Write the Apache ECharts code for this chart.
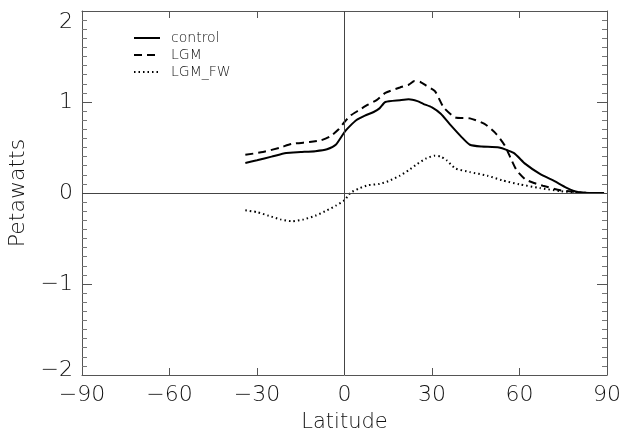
<!DOCTYPE html>
<html>
<head>
<meta charset="utf-8">
<script src="https://cdn.jsdelivr.net/npm/echarts@6/dist/echarts.min.js"></script>
<style>
  html, body { margin: 0; padding: 0; background: #fff; }
  #chart { width: 621px; height: 432px; }
</style>
</head>
<body>
<div id="chart"></div>
<script>
// values (latitude, petawatts)
var controlLat = [-34,-30,-25,-20,-15,-10,-6,-3,0,2,4,7,10,12,14,19,22,25,27,30,33,36,40,43,47,53,58,62,67,72,76,80,84,89];
var controlVal = [0.33,0.36,0.40,0.44,0.45,0.46,0.48,0.53,0.67,0.74,0.80,0.85,0.89,0.93,1.00,1.02,1.03,1.01,0.98,0.94,0.87,0.76,0.62,0.53,0.51,0.50,0.44,0.32,0.21,0.13,0.06,0.01,0,0];

var lgmLat = [-34,-28,-22,-18,-12,-8,-5,-2,0,2,5,8,11,14,19,22,24,26,28,31,34,38,43,48,52,55,57,59,62,65,68,74,80,84,89];
var lgmVal = [0.42,0.45,0.50,0.54,0.56,0.58,0.62,0.70,0.78,0.85,0.91,0.97,1.02,1.10,1.16,1.19,1.23,1.22,1.18,1.12,0.94,0.83,0.82,0.76,0.65,0.52,0.38,0.25,0.15,0.11,0.08,0.03,0.01,0,0];

var fwLat = [-34,-30,-26,-22,-18,-14,-10,-6,-3,0,2,5,8,12,15,19,22,25,28,31,33,35,38,43,49,54,60,67,74,80,85,89];
var fwVal = [-0.19,-0.21,-0.25,-0.29,-0.31,-0.29,-0.25,-0.19,-0.14,-0.08,0,0.05,0.085,0.10,0.13,0.19,0.25,0.32,0.38,0.41,0.40,0.36,0.27,0.23,0.19,0.14,0.095,0.055,0.02,0.005,0,0];

var seriesNames = ['control', 'LGM', 'LGM_FW'];

function pairs(xs, ys) {
  return xs.map(function (x, i) { return [x, ys[i]]; });
}
function minus(v) {
  return String(v).replace('-', '\u2212');
}
// end labels sit inside the frame, like the original plot
function yLabel(v) {
  if (v === 2) return '{hi|' + minus(v) + '}';
  if (v === -2) return '{lo|' + minus(v) + '}';
  return minus(v);
}

var ink = '#111';
var font = 'DejaVu Sans';

var chart = echarts.init(document.getElementById('chart'));

chart.setOption({
  animation: false,
  textStyle: { fontFamily: font, color: ink },
  grid: { left: 82, right: 14, top: 11, bottom: 57, outerBoundsMode: 'none' },
  legend: {
    orient: 'vertical',
    left: 128,
    top: 26,
    itemWidth: 26,
    itemHeight: 10,
    itemGap: 3,
    itemStyle: { opacity: 0 },
    textStyle: { fontSize: 14, lineHeight: 13, color: ink, fontFamily: font, fontWeight: 200, padding: [0, 0, 0, 6] },
    data: seriesNames
  },
  xAxis: [{
    type: 'value',
    min: -90, max: 90, interval: 30,
    name: 'Latitude',
    nameLocation: 'middle',
    nameGap: 37,
    nameTextStyle: { fontSize: 21, color: ink, fontWeight: 200 },
    axisLine: { onZero: false, lineStyle: { color: '#555', width: 1 } },
    axisTick: { inside: true, length: 7, lineStyle: { color: '#555' } },
    axisLabel: { fontSize: 22, color: ink, margin: 9, fontWeight: 200, formatter: minus },
    splitLine: { show: false }
  }, {
    type: 'value',
    position: 'top',
    min: -90, max: 90, interval: 30,
    axisLine: { onZero: false, lineStyle: { color: '#555', width: 1 } },
    axisTick: { inside: true, length: 7, lineStyle: { color: '#555' } },
    axisLabel: { show: false },
    splitLine: { show: false }
  }],
  yAxis: [{
    type: 'value',
    min: -2, max: 2, interval: 1,
    name: 'Petawatts',
    nameLocation: 'middle',
    nameGap: 53,
    nameTextStyle: { fontSize: 22, color: ink, fontWeight: 200 },
    axisLine: { show: true, onZero: false, lineStyle: { color: '#555', width: 1 } },
    axisTick: { inside: true, length: 10, lineStyle: { color: '#555' } },
    minorTick: { show: true, splitNumber: 10, length: 5, lineStyle: { color: '#777' } },
    axisLabel: {
      fontSize: 22, color: ink, margin: 9, fontWeight: 200, formatter: yLabel,
      rich: {
        hi: { fontSize: 22, fontWeight: 200, color: ink, padding: [22, 0, 0, 0] },
        lo: { fontSize: 22, fontWeight: 200, color: ink, padding: [0, 0, 10, 0] }
      }
    },
    splitLine: { show: false }
  }, {
    type: 'value',
    position: 'right',
    min: -2, max: 2, interval: 1,
    axisLine: { show: true, onZero: false, lineStyle: { color: '#555', width: 1 } },
    axisTick: { inside: true, length: 10, lineStyle: { color: '#555' } },
    minorTick: { show: true, splitNumber: 10, length: 5, lineStyle: { color: '#777' } },
    axisLabel: { show: false },
    splitLine: { show: false }
  }],
  series: [{
    name: 'control',
    type: 'line',
    data: pairs(controlLat, controlVal),
    symbol: 'none',
    smooth: 0.2,
    lineStyle: { color: '#000', width: 2, type: 'solid' },
    itemStyle: { color: '#000' },
    markLine: {
      silent: true,
      symbol: 'none',
      label: { show: false },
      lineStyle: { color: '#444', width: 1, type: 'solid' },
      data: [{ xAxis: 0 }, { yAxis: 0 }]
    }
  }, {
    name: 'LGM',
    type: 'line',
    data: pairs(lgmLat, lgmVal),
    symbol: 'none',
    smooth: 0.2,
    lineStyle: { color: '#000', width: 2, type: [8, 5] },
    itemStyle: { color: '#000' }
  }, {
    name: 'LGM_FW',
    type: 'line',
    data: pairs(fwLat, fwVal),
    symbol: 'none',
    smooth: 0.2,
    lineStyle: { color: '#000', width: 2, type: [1.5, 3] },
    itemStyle: { color: '#000' }
  }]
});
</script>
</body>
</html>
